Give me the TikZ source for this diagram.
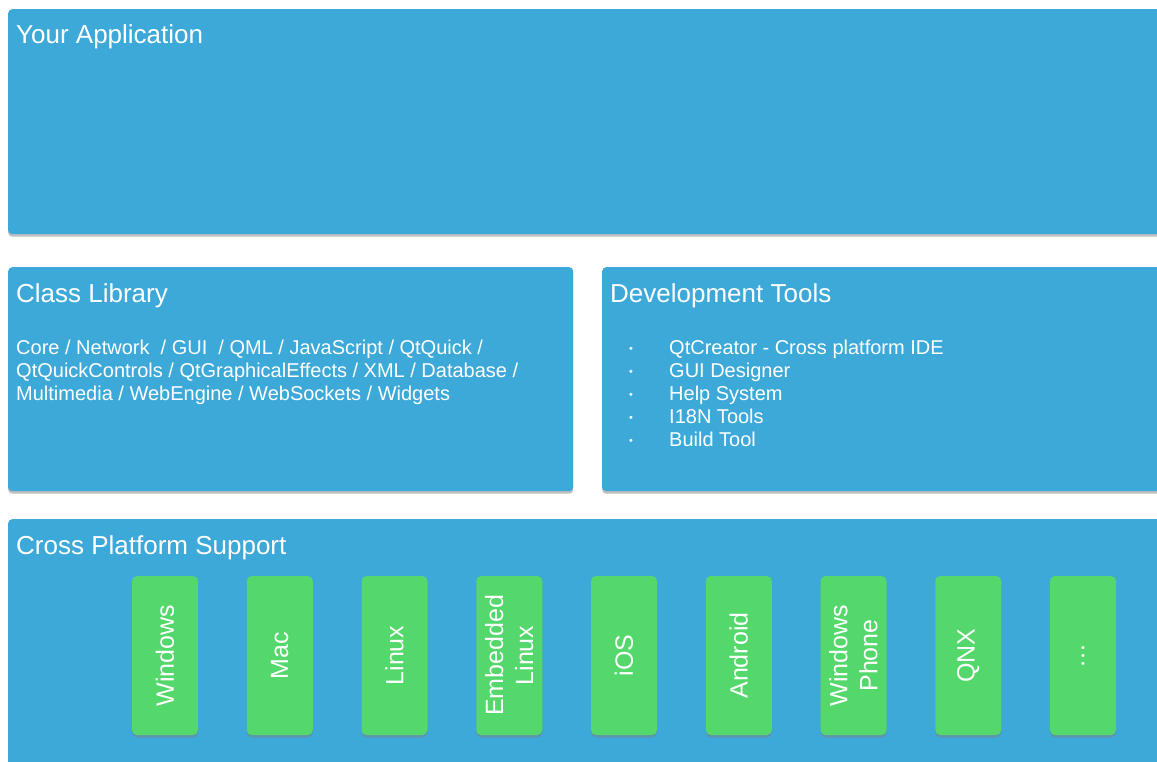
\documentclass[tikz,border=0pt]{standalone}
\usepackage{fontspec}
\setmainfont{Liberation Sans}
\usetikzlibrary{calc,shadows}
\definecolor{qtblue}{HTML}{3DA9D9}
\definecolor{qtgreen}{HTML}{54D86B}
\newcommand{\tbul}{\makebox[40pt][l]{\raisebox{2pt}{\fontsize{11}{11}\selectfont\textbullet}}}
\begin{document}
\begin{tikzpicture}[x=1pt,y=-1pt,
		panel/.style={fill=qtblue,rounded corners=4pt,inner sep=0pt,anchor=north west,
			drop shadow={shadow xshift=0pt,shadow yshift=-2.5pt,opacity=0.5}},
		platform/.style={fill=qtgreen,rounded corners=5pt,inner sep=0pt,
			minimum width=66pt,minimum height=159pt,
			drop shadow={shadow xshift=0pt,shadow yshift=-2.5pt,opacity=0.5}},
		title/.style={text=white,inner sep=0pt,anchor=base west,font=\fontsize{26}{30}\selectfont},
		body/.style={text=white,inner sep=0pt,anchor=base west,align=left,font=\fontsize{20}{23}\selectfont},
		platlabel/.style={text=white,inner sep=0pt,rotate=90,align=center,font=\fontsize{25}{30}\selectfont}]
				\fill[white] (0,0) rectangle (1157,762);
				\useasboundingbox (0,0) rectangle (1157,762);
				\clip (0,0) rectangle (1157,762);
				% panels
				\node[panel,minimum width=1170pt,minimum height=225pt] (app) at (8,9) {};
				\node[panel,minimum width=565pt,minimum height=224pt] (lib) at (8,267) {};
				\node[panel,minimum width=570pt,minimum height=224pt] (tools) at (602,267) {};
				\node[panel,minimum width=1170pt,minimum height=260pt] (cross) at (8,519) {};
				% titles
				\node[title] (appT) at ($(app.north west)+(8,35)$) {Your Application};
				\node[title] (libT) at ($(lib.north west)+(8,35)$) {Class Library};
				\node[title] (toolsT) at ($(tools.north west)+(8,35)$) {Development Tools};
				\node[title] (crossT) at ($(cross.north west)+(8,35)$) {Cross Platform Support};
				% contents (base = last line)
				\node[body] (libB) at ($(lib.north west)+(8,133)$) {Core / Network~ / GUI~ / QML / JavaScript / QtQuick /\\
					QtQuickControls / QtGraphicalEffects / XML / Database /\\
					Multimedia / WebEngine / WebSockets / Widgets};
				\node[body] (toolsB) at ($(tools.north west)+(27,179)$) {\tbul QtCreator - Cross platform IDE\\
					\tbul GUI Designer\\
					\tbul Help System\\
					\tbul I18N Tools\\
					\tbul Build Tool};
				% platforms
				\foreach \nm/\txt [count=\i from 0] in {win/Windows, mac/Mac, lin/Linux, emb/{Embedded\\Linux}, ios/iOS, andr/Android, wph/{Windows\\Phone}, qnx/QNX, more/{\ldots}} {
					\node[platform] (\nm) at (165+114.75*\i,655.5) {};
					\node[platlabel] (\nm-t) at (\nm.center) {\txt};
				}
			\end{tikzpicture}
\end{document}
